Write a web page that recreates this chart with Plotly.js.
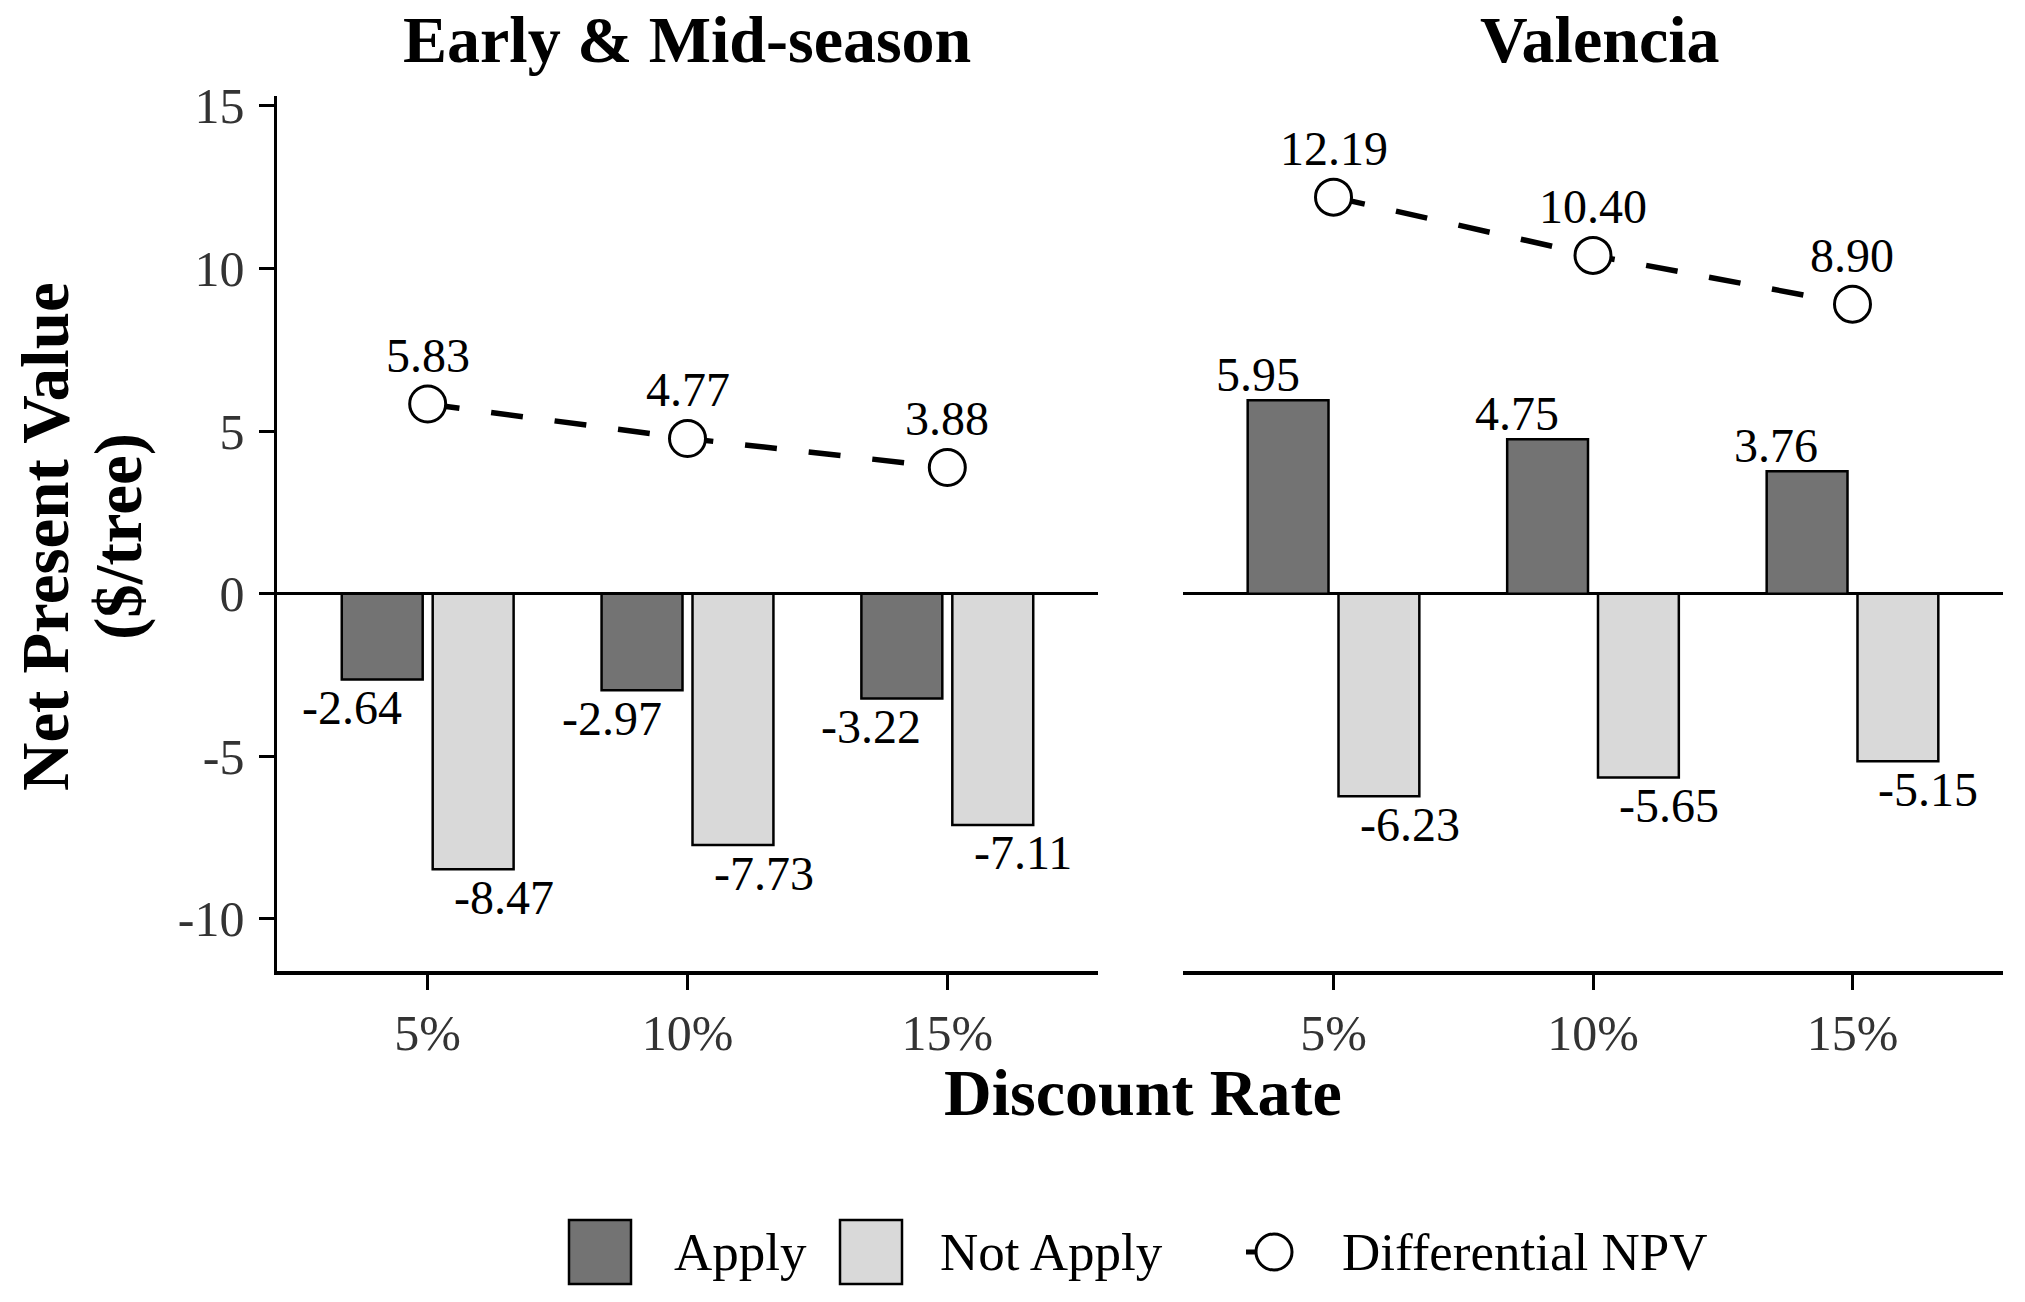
<!DOCTYPE html>
<html>
<head>
<meta charset="utf-8">
<script src="https://cdn.plot.ly/plotly-3.0.1.min.js"></script>
<style>html,body{margin:0;padding:0;background:#fff;}#chart{width:2025px;height:1302px;}</style>
</head>
<body>
<div id="chart"></div>
<script>
// ---- data ----
const categories = ['5%', '10%', '15%'];
const panelTitles = ['Early & Mid-season', 'Valencia'];
const seriesNames = ['Apply', 'Not Apply', 'Differential NPV'];
const applyEarly = [-2.64, -2.97, -3.22];
const notApplyEarly = [-8.47, -7.73, -7.11];
const diffEarly = [5.83, 4.77, 3.88];
const applyValencia = [5.95, 4.75, 3.76];
const notApplyValencia = [-6.23, -5.65, -5.15];
const diffValencia = [12.19, 10.40, 8.90];
const yTickVals = [-10, -5, 0, 5, 10, 15];
const yTickText = ['-10', '-5', '0', '5', '10', '15'];
const xTitle = 'Discount Rate';
const yTitleLines = ['Net Present Value', '($/tree)'];

// ---- style ----
const FONT = 'Liberation Serif, Times New Roman, serif';
const APPLY_COLOR = '#737373';
const NOTAPPLY_COLOR = '#d9d9d9';
const W = 2025, H = 1302;
const M = {l: 277, r: 22, t: 96, b: 331};
const PW = W - M.l - M.r, PH = H - M.t - M.b;
const px = x => (x - M.l) / PW;
const py = y => (H - M.b - y) / PH;

const panels = [
  {apply: applyEarly, notApply: notApplyEarly, diff: diffEarly, xa: 'x', ya: 'y'},
  {apply: applyValencia, notApply: notApplyValencia, diff: diffValencia, xa: 'x2', ya: 'y2'}
];

const traces = [];
const annotations = [];
panels.forEach((p, i) => {
  traces.push({
    type: 'bar', name: seriesNames[0], x: categories, y: p.apply,
    xaxis: p.xa, yaxis: p.ya, showlegend: false, hoverinfo: 'skip',
    marker: {color: APPLY_COLOR, line: {color: '#000', width: 2.5}}
  });
  traces.push({
    type: 'bar', name: seriesNames[1], x: categories, y: p.notApply,
    xaxis: p.xa, yaxis: p.ya, showlegend: false, hoverinfo: 'skip',
    marker: {color: NOTAPPLY_COLOR, line: {color: '#000', width: 2.5}}
  });
  traces.push({
    type: 'scatter', mode: 'lines+markers', name: seriesNames[2], x: categories, y: p.diff,
    xaxis: p.xa, yaxis: p.ya, showlegend: false, hoverinfo: 'skip',
    line: {color: '#000', width: 5.5, dash: '32px,32px'},
    marker: {symbol: 'circle', size: 36, color: '#fff', line: {color: '#000', width: 3}}
  });
  const lab = (x, v, xs, ys) => annotations.push({
    x: x, y: v, xref: p.xa, yref: p.ya, text: v.toFixed(2), showarrow: false,
    xshift: xs, yshift: ys, xanchor: 'center', yanchor: 'middle',
    font: {family: FONT, size: 48, color: '#000'}
  });
  categories.forEach((c, k) => {
    lab(c, p.apply[k], -76, p.apply[k] < 0 ? -28 : 26);
    lab(c, p.notApply[k], 76, p.notApply[k] < 0 ? -28 : 26);
    lab(c, p.diff[k], 0, 49);
  });
  // panel titles
  annotations.push({
    x: i === 0 ? px(687) : px(1600), y: py(40),
    xref: 'paper', yref: 'paper', text: '<b>' + panelTitles[i] + '</b>', showarrow: false,
    xanchor: 'center', yanchor: 'middle', font: {family: FONT, size: 66, color: '#000'}
  });
});

// axis titles
annotations.push({
  x: px(1143), y: py(1092), xref: 'paper', yref: 'paper', text: '<b>' + xTitle + '</b>',
  showarrow: false, xanchor: 'center', yanchor: 'middle', font: {family: FONT, size: 66, color: '#000'}
});
annotations.push({
  x: px(45), y: py(536), xref: 'paper', yref: 'paper', text: '<b>' + yTitleLines[0] + '</b>',
  showarrow: false, textangle: -90, xanchor: 'center', yanchor: 'middle',
  font: {family: FONT, size: 67, color: '#000'}
});
annotations.push({
  x: px(118), y: py(537), xref: 'paper', yref: 'paper', text: '<b>' + yTitleLines[1] + '</b>',
  showarrow: false, textangle: -90, xanchor: 'center', yanchor: 'middle',
  font: {family: FONT, size: 67, color: '#000'}
});

// custom legend (keys drawn large like the reference)
const shapes = [];
const legendY = 1252;
const keyBox = (x0, color) => shapes.push({
  type: 'rect', xref: 'paper', yref: 'paper',
  x0: px(x0), x1: px(x0 + 62), y0: py(legendY - 32), y1: py(legendY + 32),
  fillcolor: color, line: {color: '#000', width: 2.5}
});
keyBox(569, APPLY_COLOR);
keyBox(840, NOTAPPLY_COLOR);
shapes.push({
  type: 'line', xref: 'paper', yref: 'paper',
  x0: px(1246), x1: px(1274), y0: py(legendY), y1: py(legendY),
  line: {color: '#000', width: 5}
});
shapes.push({
  type: 'circle', xref: 'paper', yref: 'paper', fillcolor: '#fff',
  x0: px(1274 - 18), x1: px(1274 + 18), y0: py(legendY - 18), y1: py(legendY + 18),
  line: {color: '#000', width: 3}
});
const legText = (x, t) => annotations.push({
  x: px(x), y: py(legendY), xref: 'paper', yref: 'paper', text: t, showarrow: false,
  xanchor: 'left', yanchor: 'middle', font: {family: FONT, size: 53, color: '#000'}
});
legText(672, seriesNames[0]);
legText(938, seriesNames[1]);
legText(1340, seriesNames[2]);

const xCommon = {
  type: 'category', range: [-0.58, 2.58], showline: true, linecolor: '#000', linewidth: 4,
  ticks: 'outside', ticklen: 15, tickwidth: 3, tickcolor: '#000',
  tickfont: {family: FONT, size: 50, color: '#333'}, showgrid: false, zeroline: false,
  fixedrange: true
};
const yRange = [-11.6, 15.3];
const layout = {
  width: W, height: H, margin: M, paper_bgcolor: '#fff', plot_bgcolor: 'rgba(0,0,0,0)',
  font: {family: FONT, color: '#000'},
  barmode: 'group', bargap: 0.30, bargroupgap: 0.11,
  showlegend: false,
  xaxis: Object.assign({}, xCommon, {domain: [0, px(1098)], anchor: 'y'}),
  xaxis2: Object.assign({}, xCommon, {domain: [px(1183), 1], anchor: 'y2'}),
  yaxis: {
    range: yRange, tickvals: yTickVals, ticktext: yTickText, showline: true, linecolor: '#000',
    linewidth: 3.5, ticks: 'outside', ticklen: 15, tickwidth: 3, tickcolor: '#000',
    tickfont: {family: FONT, size: 50, color: '#333'}, showgrid: false,
    zeroline: true, zerolinecolor: '#000', zerolinewidth: 3, anchor: 'x', ticklabelstandoff: 4
  },
  yaxis2: {
    range: yRange, matches: 'y', anchor: 'x2', showline: false, showticklabels: false, ticks: '',
    showgrid: false, zeroline: true, zerolinecolor: '#000', zerolinewidth: 3
  },
  annotations: annotations,
  shapes: shapes
};
Plotly.newPlot('chart', traces, layout, {staticPlot: true, displayModeBar: false});
</script>
</body>
</html>
